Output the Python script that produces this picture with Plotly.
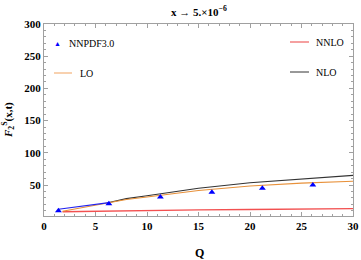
import plotly.graph_objects as go

# NNPDF3.0 points
q_nn = [1.4, 6.3, 11.3, 16.3, 21.2, 26.1]
f_nn = [10.3, 21.0, 31.5, 39.0, 45.0, 50.0]

# blue connecting segment
q_blue = [1.4, 6.3]
f_blue = [12.5, 22.8]

# LO
q_lo = [1.8, 4, 6.3, 8, 10, 15, 20, 25, 30]
f_lo = [9.5, 15.5, 22.0, 27.5, 31.5, 41.5, 48.5, 53.0, 56.0]

# NLO
q_nlo = [6.3, 8, 10, 15, 20, 25, 30]
f_nlo = [23.0, 29.0, 33.5, 45.0, 53.5, 59.5, 65.0]

# NNLO
q_nnlo = [1.8, 5, 10, 15, 20, 25, 30]
f_nnlo = [8.5, 9.5, 10.6, 11.5, 12.2, 12.8, 13.4]

serif = "Liberation Serif"
fig = go.Figure()
fig.add_trace(go.Scatter(x=q_nnlo, y=f_nnlo, mode="lines",
                         line=dict(color="#f25050", width=1.4), showlegend=False))
fig.add_trace(go.Scatter(x=q_nlo, y=f_nlo, mode="lines",
                         line=dict(color="#333333", width=1.1), showlegend=False))
fig.add_trace(go.Scatter(x=q_lo, y=f_lo, mode="lines",
                         line=dict(color="#e8913a", width=1.1), showlegend=False))
fig.add_trace(go.Scatter(x=q_blue, y=f_blue, mode="lines",
                         line=dict(color="#2222ee", width=1.1), showlegend=False))
fig.add_trace(go.Scatter(x=q_nn, y=f_nn, mode="markers",
                         marker=dict(symbol="triangle-up", color="#0000ff", size=6),
                         showlegend=False))

axis_common = dict(
    showgrid=False, zeroline=False, showline=True, linecolor="#a0a0a0", linewidth=1,
    mirror="allticks", ticks="inside", ticklen=4, tickcolor="#a0a0a0", automargin=False,
    tickfont=dict(family=serif, size=11, color="#000000", weight="bold"),
)
fig.update_xaxes(range=[0, 30], tickvals=[0, 5, 10, 15, 20, 25, 30],
                 minor=dict(dtick=1, ticks="inside", ticklen=2, tickcolor="#a0a0a0"),
                 **axis_common)
fig.update_yaxes(range=[2, 300], tickvals=[50, 100, 150, 200, 250, 300],
                 minor=dict(dtick=10, ticks="inside", ticklen=2, tickcolor="#a0a0a0"),
                 **axis_common)

W, H, L, R, T, B = 361, 260, 44, 8, 24, 44
pw, ph = W - L - R, H - T - B
def px2paper(x, y):
    return (x - L) / pw, (H - B - y) / ph

legend_font = dict(family=serif, size=10, color="#000")
ann_px = [
    dict(text="▲", x=57, y=43, font=dict(size=7, color="#0000ff")),
    dict(text="NNPDF3.0", x=67, y=43, xanchor="left", font=legend_font),
    dict(text="LO", x=78, y=73, xanchor="left", font=legend_font),
    dict(text="NNLO", x=314, y=42, xanchor="left", font=legend_font),
    dict(text="NLO", x=314, y=72, xanchor="left", font=legend_font),
    dict(text="<b>Q</b>", x=199, y=253, font=dict(family=serif, size=12, color="#000")),
    dict(text="<b><i>F</i><sub>2</sub><sup>S</sup>(x,t)</b>", x=8, y=120, textangle=-90,
         font=dict(family=serif, size=11, color="#000")),
    dict(text="<b>x → 5.×10<sup>−6</sup></b>", x=199, y=11,
         font=dict(family=serif, size=11, color="#000")),
]
annotations = []
for a in ann_px:
    a = dict(a)
    a["x"], a["y"] = px2paper(a["x"], a["y"])
    a.update(xref="paper", yref="paper", showarrow=False, yanchor="middle")
    a.setdefault("xanchor", "center")
    annotations.append(a)

shape_px = [
    dict(x0=54, x1=72, y0=73, y1=73, color="#f4b27a", width=1.2),
    dict(x0=290, x1=309, y0=42, y1=42, color="#f5a0a0", width=2),
    dict(x0=290, x1=309, y0=72, y1=72, color="#333333", width=1),
]
shapes = []
for s in shape_px:
    x0, y0 = px2paper(s["x0"], s["y0"])
    x1, y1 = px2paper(s["x1"], s["y1"])
    shapes.append(dict(type="line", xref="paper", yref="paper", x0=x0, y0=y0, x1=x1, y1=y1,
                       line=dict(color=s["color"], width=s["width"])))

fig.update_layout(
    width=W, height=H,
    margin=dict(l=L, r=R, t=T, b=B),
    plot_bgcolor="white", paper_bgcolor="white",
    annotations=annotations, shapes=shapes,
)

fig.write_html("out.html", config={"displayModeBar": False},
               post_script="document.body.style.margin='0';")
